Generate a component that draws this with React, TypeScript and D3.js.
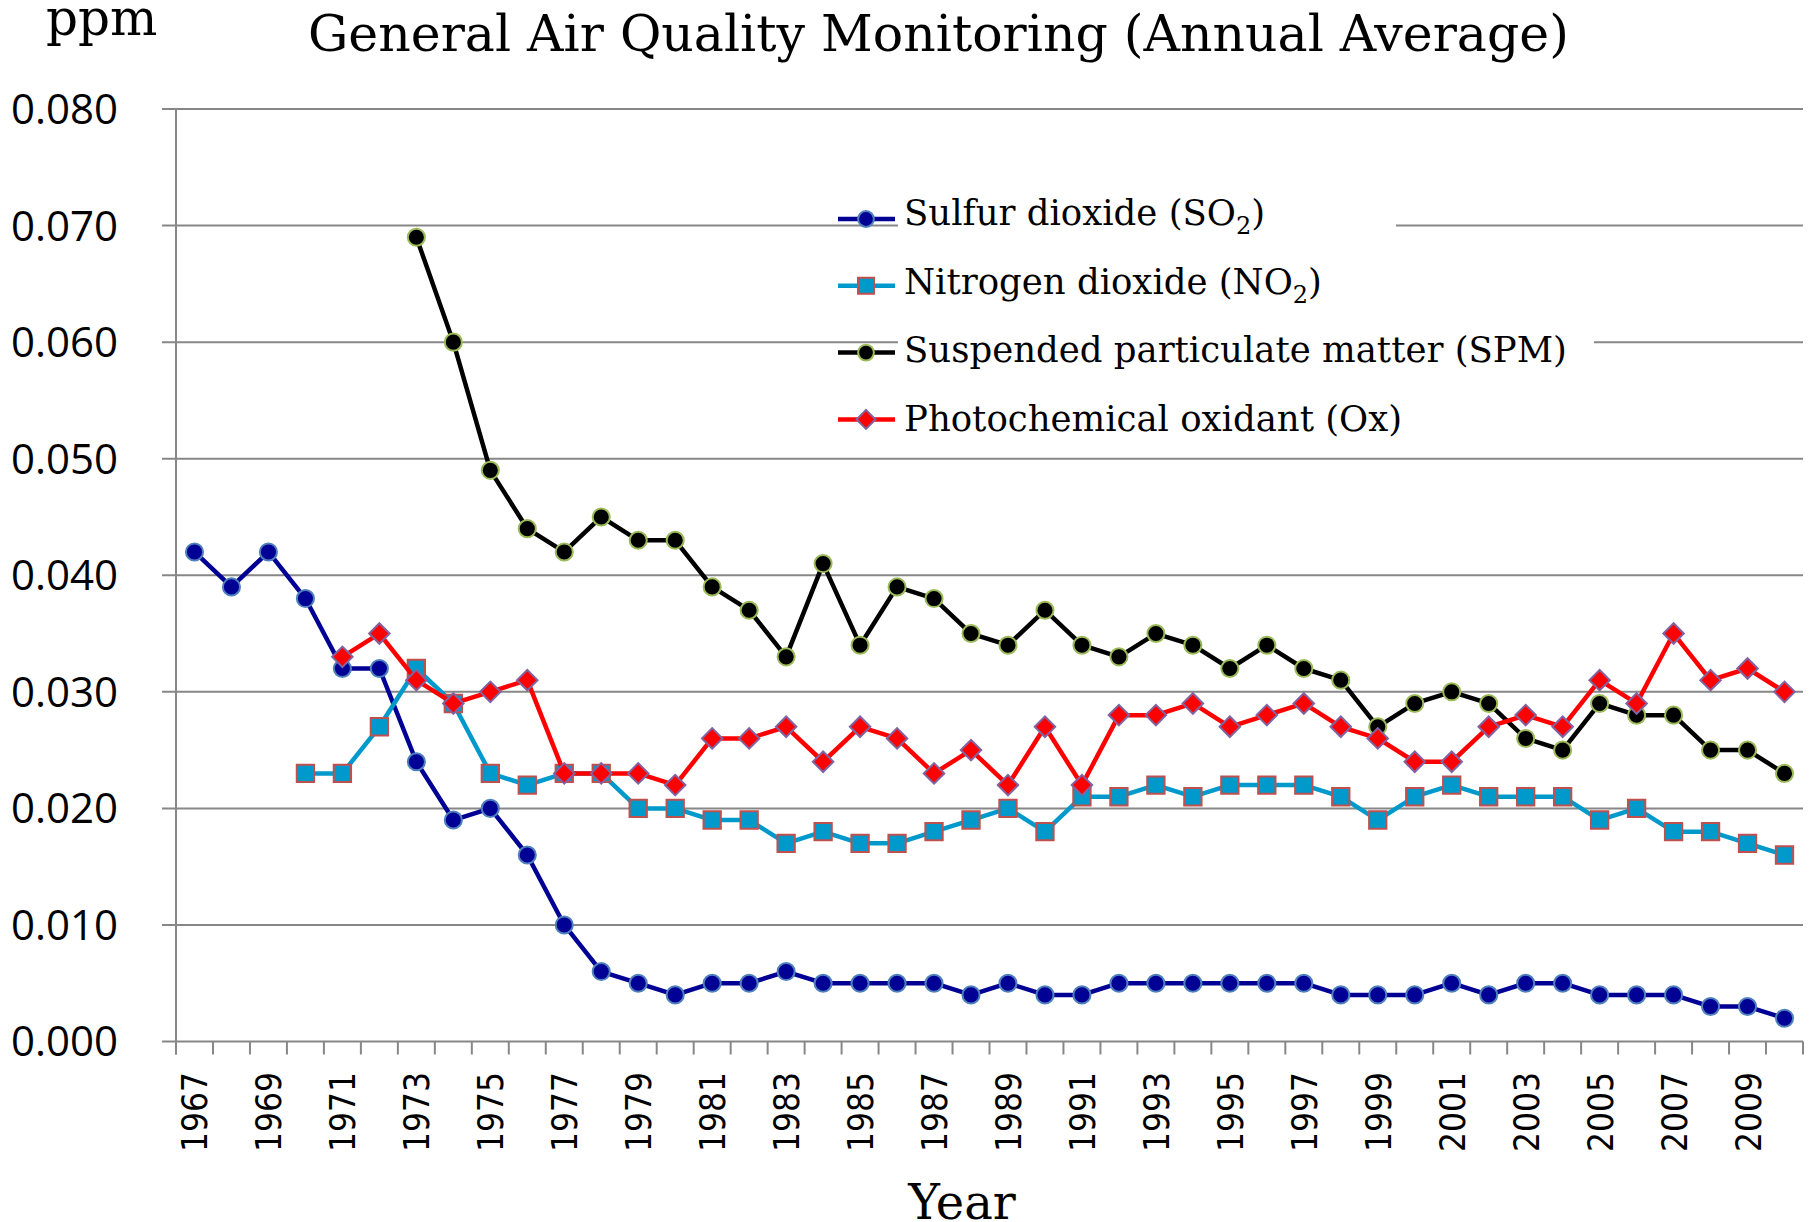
import * as d3 from 'd3'
import React, { useRef, useEffect } from 'react'

// Categories
const years = [
  1967, 1968, 1969, 1970, 1971, 1972, 1973, 1974, 1975, 1976,
  1977, 1978, 1979, 1980, 1981, 1982, 1983, 1984, 1985, 1986,
  1987, 1988, 1989, 1990, 1991, 1992, 1993, 1994, 1995, 1996,
  1997, 1998, 1999, 2000, 2001, 2002, 2003, 2004, 2005, 2006,
  2007, 2008, 2009, 2010,
]
const yTicks = [0, 0.01, 0.02, 0.03, 0.04, 0.05, 0.06, 0.07, 0.08]

// Series values (ppm), aligned with years; null = no measurement
const so2 = [
  0.042, 0.039, 0.042, 0.038, 0.032, 0.032, 0.024, 0.019, 0.020, 0.016,
  0.010, 0.006, 0.005, 0.004, 0.005, 0.005, 0.006, 0.005, 0.005, 0.005,
  0.005, 0.004, 0.005, 0.004, 0.004, 0.005, 0.005, 0.005, 0.005, 0.005,
  0.005, 0.004, 0.004, 0.004, 0.005, 0.004, 0.005, 0.005, 0.004, 0.004,
  0.004, 0.003, 0.003, 0.002,
]
const no2 = [
  null, null, null, 0.023, 0.023, 0.027, 0.032, 0.029, 0.023, 0.022,
  0.023, 0.023, 0.020, 0.020, 0.019, 0.019, 0.017, 0.018, 0.017, 0.017,
  0.018, 0.019, 0.020, 0.018, 0.021, 0.021, 0.022, 0.021, 0.022, 0.022,
  0.022, 0.021, 0.019, 0.021, 0.022, 0.021, 0.021, 0.021, 0.019, 0.020,
  0.018, 0.018, 0.017, 0.016,
]
const spm = [
  null, null, null, null, null, null, 0.069, 0.060, 0.049, 0.044,
  0.042, 0.045, 0.043, 0.043, 0.039, 0.037, 0.033, 0.041, 0.034, 0.039,
  0.038, 0.035, 0.034, 0.037, 0.034, 0.033, 0.035, 0.034, 0.032, 0.034,
  0.032, 0.031, 0.027, 0.029, 0.030, 0.029, 0.026, 0.025, 0.029, 0.028,
  0.028, 0.025, 0.025, 0.023,
]
const ox = [
  null, null, null, null, 0.033, 0.035, 0.031, 0.029, 0.030, 0.031,
  0.023, 0.023, 0.023, 0.022, 0.026, 0.026, 0.027, 0.024, 0.027, 0.026,
  0.023, 0.025, 0.022, 0.027, 0.022, 0.028, 0.028, 0.029, 0.027, 0.028,
  0.029, 0.027, 0.026, 0.024, 0.024, 0.027, 0.028, 0.027, 0.031, 0.029,
  0.035, 0.031, 0.032, 0.030,
]

const seriesLabels = [
  ['Sulfur dioxide (SO', '2', ')'],
  ['Nitrogen dioxide (NO', '2', ')'],
  ['Suspended particulate matter (SPM)', '', ''],
  ['Photochemical oxidant (Ox)', '', ''],
]

const AirQualityChart = () => {
  const d3Container = useRef<SVGSVGElement | null>(null)

  useEffect(() => {
    const svg = d3.select(d3Container.current)
    svg.selectAll('*').remove()

    const x = d3.scaleBand<number>().domain(years).range([176, 1803])
    const y = d3.scaleLinear().domain([0, 0.08]).range([1041.5, 109])
    const cx = (yr: number) => (x(yr) as number) + x.bandwidth() / 2
    const gridColor = '#878787'

    const series = [
      { values: so2, line: '#000094', fill: '#000094', stroke: '#4F81BD', symbol: d3.symbolCircle, size: 230, rotate: 0 },
      { values: no2, line: '#0099CC', fill: '#0099CC', stroke: '#C0504D', symbol: d3.symbolSquare, size: 300, rotate: 0 },
      { values: spm, line: '#000000', fill: '#000000', stroke: '#9BBB59', symbol: d3.symbolCircle, size: 230, rotate: 0 },
      { values: ox, line: '#FF0000', fill: '#FF0000', stroke: '#8064A2', symbol: d3.symbolSquare, size: 210, rotate: 45 },
    ]

    // Horizontal gridlines
    svg.selectAll('.grid')
      .data(yTicks)
      .enter().append('line')
      .attr('x1', 162).attr('x2', 1803)
      .attr('y1', d => y(d)).attr('y2', d => y(d))
      .attr('stroke', gridColor)
      .attr('stroke-width', 2)

    // Y axis line
    svg.append('line')
      .attr('x1', 176).attr('x2', 176)
      .attr('y1', y(0.08)).attr('y2', y(0) + 13)
      .attr('stroke', gridColor)
      .attr('stroke-width', 2)

    // X tick marks at category boundaries
    const bounds = years.map(yr => x(yr) as number).concat([x.range()[1]])
    svg.selectAll('.xtick')
      .data(bounds)
      .enter().append('line')
      .attr('x1', d => d).attr('x2', d => d)
      .attr('y1', y(0)).attr('y2', y(0) + 13)
      .attr('stroke', gridColor)
      .attr('stroke-width', 2)

    // Y tick labels
    svg.selectAll('.ylabel')
      .data(yTicks)
      .enter().append('text')
      .attr('x', 118)
      .attr('y', d => y(d))
      .attr('dy', '0.357em')
      .attr('text-anchor', 'end')
      .style('font-family', '"Open Sans", sans-serif')
      .style('font-size', '42px')
      .attr('fill', '#000')
      .text(d => d3.format('.3f')(d))

    // X tick labels (every other year)
    svg.selectAll('.xlabel')
      .data(years.filter((d, i) => i % 2 === 0))
      .enter().append('text')
      .attr('transform', d => `translate(${cx(d)}, 1072) rotate(-90)`)
      .attr('dy', '0.36em')
      .attr('text-anchor', 'end')
      .attr('textLength', 80)
      .attr('lengthAdjust', 'spacingAndGlyphs')
      .style('font-family', '"DejaVu Sans", sans-serif')
      .style('font-size', '36px')
      .attr('fill', '#000')
      .text(d => d)

    // Series lines and markers
    series.forEach(s => {
      const pts = years.map((yr, i) => ({ yr, v: s.values[i] })).filter(p => p.v !== null)
      const line = d3.line<any>()
        .x(p => cx(p.yr))
        .y(p => y(p.v))
      svg.append('path')
        .datum(pts)
        .attr('d', line)
        .attr('fill', 'none')
        .attr('stroke', s.line)
        .attr('stroke-width', 4.5)
        .attr('stroke-linejoin', 'round')

      const sym = d3.symbol().type(s.symbol).size(s.size)
      svg.selectAll(null)
        .data(pts)
        .enter().append('path')
        .attr('d', sym)
        .attr('transform', p => `translate(${cx(p.yr)}, ${y(p.v)}) rotate(${s.rotate})`)
        .attr('fill', s.fill)
        .attr('stroke', s.stroke)
        .attr('stroke-width', 2)
    })

    // Legend backgrounds (cover gridlines behind the text)
    svg.append('rect')
      .attr('x', 898).attr('y', 190).attr('width', 498).attr('height', 255)
      .attr('fill', '#fff')
    svg.append('rect')
      .attr('x', 898).attr('y', 325).attr('width', 696).attr('height', 60)
      .attr('fill', '#fff')

    // Legend entries
    series.forEach((s, i) => {
      const ly = 219 + i * 66.8
      const ty = 225 + i * 68.7
      svg.append('line')
        .attr('x1', 838).attr('x2', 895)
        .attr('y1', ly).attr('y2', ly)
        .attr('stroke', s.line)
        .attr('stroke-width', 4.5)
      svg.append('path')
        .attr('d', d3.symbol().type(s.symbol).size(s.size * 0.85)())
        .attr('transform', `translate(866, ${ly}) rotate(${s.rotate})`)
        .attr('fill', s.fill)
        .attr('stroke', s.stroke)
        .attr('stroke-width', 2)

      const [main, sub, tail] = seriesLabels[i]
      const t = svg.append('text')
        .attr('x', 904)
        .attr('y', ty)
        .style('font-family', '"DejaVu Serif", serif')
        .style('font-size', '35.5px')
        .attr('fill', '#000')
      t.append('tspan').text(main)
      if (sub) {
        t.append('tspan').attr('dy', 9).style('font-size', '24px').text(sub)
        t.append('tspan').attr('dy', -9).text(tail)
      }
    })

    // Title and axis titles
    svg.append('text')
      .attr('x', 308).attr('y', 51)
      .style('font-family', '"DejaVu Serif", serif')
      .style('font-size', '50.5px')
      .text('General Air Quality Monitoring (Annual Average)')

    svg.append('text')
      .attr('x', 46).attr('y', 35)
      .style('font-family', '"DejaVu Serif", serif')
      .style('font-size', '50px')
      .text('ppm')

    svg.append('text')
      .attr('x', 962).attr('y', 1219)
      .attr('text-anchor', 'middle')
      .style('font-family', '"DejaVu Serif", serif')
      .style('font-size', '48px')
      .text('Year')
  }, [])

  return (
    <svg
      ref={ d3Container }
      width={ 1811 }
      height={ 1222 }
      style={{ position: 'absolute', left: 0, top: 0, background: '#fff' }}
    />
  )
}

export default function App() {
  return <AirQualityChart />
}
